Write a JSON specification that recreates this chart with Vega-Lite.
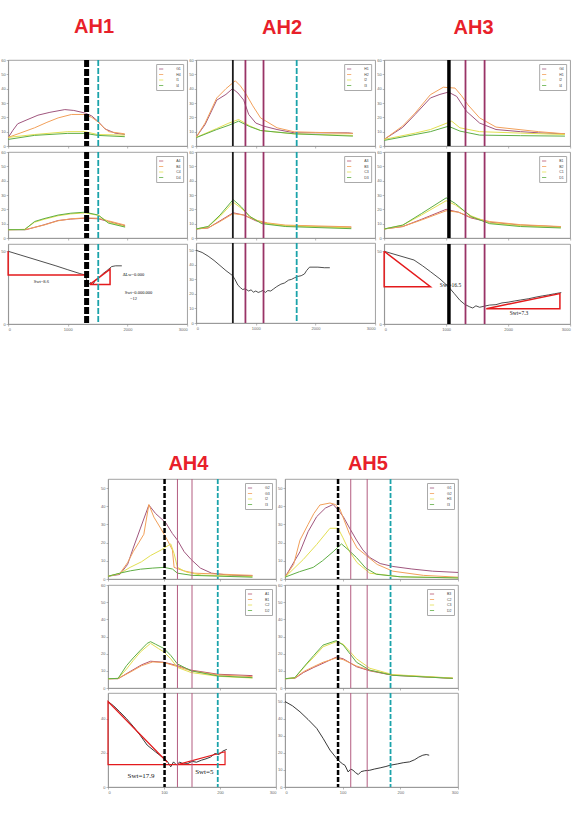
{
"$schema": "https://vega.github.io/schema/vega-lite/v6.json",
"background": "white",
"padding": {"left": 0, "top": 17, "right": 4, "bottom": 4},
"config": {
 "view": {"stroke": "#8a8a8a", "strokeWidth": 0.8},
 "axis": {"grid": false, "title": null, "labelFontSize": 4, "labelColor": "#666", "labelFont": "Liberation Sans", "tickSize": 2, "tickColor": "#888", "tickWidth": 0.6, "domainColor": "#888", "domainWidth": 0.6, "labelPadding": 1, "labelOverlap": false, "format": "d"},
 "legend": {"orient": "top-right", "offset": 4, "title": null, "labelFontSize": 3.5, "labelColor": "#444", "symbolType": "stroke", "symbolSize": 18, "symbolStrokeWidth": 0.8, "strokeColor": "#aaa", "fillColor": "#fff", "padding": 2, "rowPadding": 0.5, "labelOffset": 12, "labelLimit": 30},
 "title": {"color": "#e8202a", "fontSize": 20, "fontWeight": 900, "font": "Liberation Sans", "anchor": "middle"}
},
"datasets": {
"cur": [
{"p":"1t","s":"G1","x":0,"y":5.8},{"p":"1t","s":"G1","x":80,"y":11},{"p":"1t","s":"G1","x":160,"y":15.5},{"p":"1t","s":"G1","x":300,"y":18},{"p":"1t","s":"G1","x":500,"y":21.5},{"p":"1t","s":"G1","x":700,"y":23.5},{"p":"1t","s":"G1","x":950,"y":25.4},{"p":"1t","s":"G1","x":1100,"y":24.8},{"p":"1t","s":"G1","x":1290,"y":23},{"p":"1t","s":"G1","x":1400,"y":21},{"p":"1t","s":"G1","x":1510,"y":17},{"p":"1t","s":"G1","x":1620,"y":12},{"p":"1t","s":"G1","x":1790,"y":9},{"p":"1t","s":"G1","x":1955,"y":8},
{"p":"1t","s":"H4","x":0,"y":6},{"p":"1t","s":"H4","x":200,"y":9},{"p":"1t","s":"H4","x":443,"y":12.7},{"p":"1t","s":"H4","x":650,"y":16.5},{"p":"1t","s":"H4","x":837,"y":19.6},{"p":"1t","s":"H4","x":1062,"y":22},{"p":"1t","s":"H4","x":1286,"y":22},{"p":"1t","s":"H4","x":1400,"y":20},{"p":"1t","s":"H4","x":1500,"y":17},{"p":"1t","s":"H4","x":1600,"y":13},{"p":"1t","s":"H4","x":1685,"y":10},{"p":"1t","s":"H4","x":1955,"y":8.5},
{"p":"1t","s":"I1","x":0,"y":6},{"p":"1t","s":"I1","x":440,"y":8},{"p":"1t","s":"I1","x":1000,"y":10},{"p":"1t","s":"I1","x":1290,"y":10},{"p":"1t","s":"I1","x":1500,"y":8},{"p":"1t","s":"I1","x":1955,"y":7.6},
{"p":"1t","s":"I4","x":0,"y":4.6},{"p":"1t","s":"I4","x":440,"y":7.4},{"p":"1t","s":"I4","x":1000,"y":8.8},{"p":"1t","s":"I4","x":1290,"y":8.8},{"p":"1t","s":"I4","x":1500,"y":7.4},{"p":"1t","s":"I4","x":1955,"y":6.5},
{"p":"1m","s":"A4","x":0,"y":5.8},{"p":"1m","s":"A4","x":300,"y":5.8},{"p":"1m","s":"A4","x":600,"y":9.2},{"p":"1m","s":"A4","x":837,"y":12.2},{"p":"1m","s":"A4","x":1050,"y":13.2},{"p":"1m","s":"A4","x":1286,"y":13.8},{"p":"1m","s":"A4","x":1511,"y":13.4},{"p":"1m","s":"A4","x":1680,"y":11.5},{"p":"1m","s":"A4","x":1960,"y":8.5},
{"p":"1m","s":"B4","x":0,"y":5.8},{"p":"1m","s":"B4","x":300,"y":6},{"p":"1m","s":"B4","x":600,"y":9},{"p":"1m","s":"B4","x":837,"y":12},{"p":"1m","s":"B4","x":1050,"y":13.4},{"p":"1m","s":"B4","x":1286,"y":14},{"p":"1m","s":"B4","x":1511,"y":13.8},{"p":"1m","s":"B4","x":1680,"y":12},{"p":"1m","s":"B4","x":1960,"y":9},
{"p":"1m","s":"C4","x":0,"y":5.8},{"p":"1m","s":"C4","x":275,"y":6},{"p":"1m","s":"C4","x":443,"y":11},{"p":"1m","s":"C4","x":600,"y":13},{"p":"1m","s":"C4","x":837,"y":15.5},{"p":"1m","s":"C4","x":1050,"y":16.8},{"p":"1m","s":"C4","x":1286,"y":17.5},{"p":"1m","s":"C4","x":1511,"y":15.8},{"p":"1m","s":"C4","x":1680,"y":11},{"p":"1m","s":"C4","x":1960,"y":8},
{"p":"1m","s":"D4","x":0,"y":5.8},{"p":"1m","s":"D4","x":275,"y":5.8},{"p":"1m","s":"D4","x":443,"y":11.5},{"p":"1m","s":"D4","x":600,"y":13.5},{"p":"1m","s":"D4","x":837,"y":16},{"p":"1m","s":"D4","x":1050,"y":17.3},{"p":"1m","s":"D4","x":1286,"y":18},{"p":"1m","s":"D4","x":1511,"y":16},{"p":"1m","s":"D4","x":1680,"y":10.4},{"p":"1m","s":"D4","x":1960,"y":7.6},
{"p":"2t","s":"H1","x":0,"y":6.2},{"p":"2t","s":"H1","x":150,"y":15},{"p":"2t","s":"H1","x":345,"y":32},{"p":"2t","s":"H1","x":500,"y":36},{"p":"2t","s":"H1","x":610,"y":40},{"p":"2t","s":"H1","x":700,"y":37},{"p":"2t","s":"H1","x":797,"y":32},{"p":"2t","s":"H1","x":881,"y":22},{"p":"2t","s":"H1","x":1000,"y":16},{"p":"2t","s":"H1","x":1136,"y":13.8},{"p":"2t","s":"H1","x":1356,"y":11.5},{"p":"2t","s":"H1","x":1644,"y":9.2},{"p":"2t","s":"H1","x":2000,"y":9.2},{"p":"2t","s":"H1","x":2542,"y":9.2},{"p":"2t","s":"H1","x":2627,"y":8.8},
{"p":"2t","s":"H2","x":0,"y":6.2},{"p":"2t","s":"H2","x":150,"y":16},{"p":"2t","s":"H2","x":345,"y":33.5},{"p":"2t","s":"H2","x":500,"y":40},{"p":"2t","s":"H2","x":656,"y":45.5},{"p":"2t","s":"H2","x":740,"y":42},{"p":"2t","s":"H2","x":825,"y":37},{"p":"2t","s":"H2","x":950,"y":28},{"p":"2t","s":"H2","x":1080,"y":19.6},{"p":"2t","s":"H2","x":1356,"y":12.7},{"p":"2t","s":"H2","x":1644,"y":9.9},{"p":"2t","s":"H2","x":2000,"y":9.5},{"p":"2t","s":"H2","x":2627,"y":8.8},
{"p":"2t","s":"I2","x":0,"y":6},{"p":"2t","s":"I2","x":345,"y":12.2},{"p":"2t","s":"I2","x":550,"y":16},{"p":"2t","s":"I2","x":712,"y":18.5},{"p":"2t","s":"I2","x":900,"y":14},{"p":"2t","s":"I2","x":1080,"y":10.8},{"p":"2t","s":"I2","x":1644,"y":8.5},{"p":"2t","s":"I2","x":2627,"y":7.4},
{"p":"2t","s":"I3","x":0,"y":5.8},{"p":"2t","s":"I3","x":345,"y":11.5},{"p":"2t","s":"I3","x":550,"y":14.5},{"p":"2t","s":"I3","x":712,"y":17.3},{"p":"2t","s":"I3","x":900,"y":13.5},{"p":"2t","s":"I3","x":1080,"y":10.8},{"p":"2t","s":"I3","x":1644,"y":8.5},{"p":"2t","s":"I3","x":2627,"y":6.9},
{"p":"2m","s":"A3","x":0,"y":6.3},{"p":"2m","s":"A3","x":200,"y":7},{"p":"2m","s":"A3","x":400,"y":12},{"p":"2m","s":"A3","x":620,"y":17.6},{"p":"2m","s":"A3","x":800,"y":16},{"p":"2m","s":"A3","x":1000,"y":12},{"p":"2m","s":"A3","x":1200,"y":10},{"p":"2m","s":"A3","x":1500,"y":8.5},{"p":"2m","s":"A3","x":2600,"y":7.5},
{"p":"2m","s":"B3","x":0,"y":6.3},{"p":"2m","s":"B3","x":200,"y":7},{"p":"2m","s":"B3","x":400,"y":11.5},{"p":"2m","s":"B3","x":620,"y":17},{"p":"2m","s":"B3","x":800,"y":16},{"p":"2m","s":"B3","x":1000,"y":12.5},{"p":"2m","s":"B3","x":1200,"y":10.5},{"p":"2m","s":"B3","x":1500,"y":9},{"p":"2m","s":"B3","x":2600,"y":7.8},
{"p":"2m","s":"C3","x":0,"y":6.3},{"p":"2m","s":"C3","x":200,"y":8},{"p":"2m","s":"C3","x":400,"y":15},{"p":"2m","s":"C3","x":620,"y":25},{"p":"2m","s":"C3","x":750,"y":21},{"p":"2m","s":"C3","x":900,"y":15},{"p":"2m","s":"C3","x":1100,"y":10.5},{"p":"2m","s":"C3","x":1500,"y":8.5},{"p":"2m","s":"C3","x":2600,"y":7},
{"p":"2m","s":"D3","x":0,"y":6.3},{"p":"2m","s":"D3","x":200,"y":8},{"p":"2m","s":"D3","x":400,"y":16},{"p":"2m","s":"D3","x":620,"y":26.8},{"p":"2m","s":"D3","x":750,"y":22},{"p":"2m","s":"D3","x":900,"y":15},{"p":"2m","s":"D3","x":1100,"y":10},{"p":"2m","s":"D3","x":1500,"y":8},{"p":"2m","s":"D3","x":2600,"y":6.5},
{"p":"3t","s":"G4","x":0,"y":4.6},{"p":"3t","s":"G4","x":300,"y":13},{"p":"3t","s":"G4","x":500,"y":22},{"p":"3t","s":"G4","x":746,"y":33.5},{"p":"3t","s":"G4","x":900,"y":36},{"p":"3t","s":"G4","x":1037,"y":37.6},{"p":"3t","s":"G4","x":1170,"y":34.6},{"p":"3t","s":"G4","x":1328,"y":24.2},{"p":"3t","s":"G4","x":1540,"y":16},{"p":"3t","s":"G4","x":1804,"y":11.5},{"p":"3t","s":"G4","x":2200,"y":10},{"p":"3t","s":"G4","x":2492,"y":9.2},{"p":"3t","s":"G4","x":2916,"y":8.5},
{"p":"3t","s":"H1","x":0,"y":4.6},{"p":"3t","s":"H1","x":300,"y":14},{"p":"3t","s":"H1","x":500,"y":23},{"p":"3t","s":"H1","x":746,"y":35.8},{"p":"3t","s":"H1","x":955,"y":41},{"p":"3t","s":"H1","x":1143,"y":40.4},{"p":"3t","s":"H1","x":1250,"y":35},{"p":"3t","s":"H1","x":1350,"y":28.8},{"p":"3t","s":"H1","x":1540,"y":19.6},{"p":"3t","s":"H1","x":1804,"y":13.2},{"p":"3t","s":"H1","x":2492,"y":10},{"p":"3t","s":"H1","x":2916,"y":8.5},
{"p":"3t","s":"I2","x":0,"y":4.6},{"p":"3t","s":"I2","x":500,"y":9},{"p":"3t","s":"I2","x":746,"y":11.5},{"p":"3t","s":"I2","x":1090,"y":17.3},{"p":"3t","s":"I2","x":1222,"y":12.7},{"p":"3t","s":"I2","x":1540,"y":10},{"p":"3t","s":"I2","x":2200,"y":9},{"p":"3t","s":"I2","x":2916,"y":8},
{"p":"3t","s":"I4","x":0,"y":3.9},{"p":"3t","s":"I4","x":500,"y":8},{"p":"3t","s":"I4","x":746,"y":10},{"p":"3t","s":"I4","x":1037,"y":13.8},{"p":"3t","s":"I4","x":1222,"y":10.4},{"p":"3t","s":"I4","x":1540,"y":7.6},{"p":"3t","s":"I4","x":2200,"y":7.2},{"p":"3t","s":"I4","x":2916,"y":6.9},
{"p":"3m","s":"B1","x":0,"y":6.3},{"p":"3m","s":"B1","x":300,"y":8},{"p":"3m","s":"B1","x":600,"y":13},{"p":"3m","s":"B1","x":1000,"y":20},{"p":"3m","s":"B1","x":1200,"y":18},{"p":"3m","s":"B1","x":1400,"y":14},{"p":"3m","s":"B1","x":1700,"y":11},{"p":"3m","s":"B1","x":2200,"y":9},{"p":"3m","s":"B1","x":2850,"y":7.8},
{"p":"3m","s":"B2","x":0,"y":6.3},{"p":"3m","s":"B2","x":300,"y":8},{"p":"3m","s":"B2","x":600,"y":12.5},{"p":"3m","s":"B2","x":1000,"y":19},{"p":"3m","s":"B2","x":1200,"y":18},{"p":"3m","s":"B2","x":1400,"y":14.5},{"p":"3m","s":"B2","x":1700,"y":11.5},{"p":"3m","s":"B2","x":2200,"y":9.3},{"p":"3m","s":"B2","x":2850,"y":8},
{"p":"3m","s":"C1","x":0,"y":6.3},{"p":"3m","s":"C1","x":300,"y":9},{"p":"3m","s":"C1","x":600,"y":16},{"p":"3m","s":"C1","x":1000,"y":26},{"p":"3m","s":"C1","x":1150,"y":23},{"p":"3m","s":"C1","x":1400,"y":15.5},{"p":"3m","s":"C1","x":1700,"y":10.5},{"p":"3m","s":"C1","x":2200,"y":8.5},{"p":"3m","s":"C1","x":2850,"y":7.3},
{"p":"3m","s":"D1","x":0,"y":6.3},{"p":"3m","s":"D1","x":300,"y":9},{"p":"3m","s":"D1","x":600,"y":17},{"p":"3m","s":"D1","x":1000,"y":28},{"p":"3m","s":"D1","x":1150,"y":24},{"p":"3m","s":"D1","x":1400,"y":15},{"p":"3m","s":"D1","x":1700,"y":10},{"p":"3m","s":"D1","x":2200,"y":8},{"p":"3m","s":"D1","x":2850,"y":7},
{"p":"4t","s":"G2","x":0,"y":1.5},{"p":"4t","s":"G2","x":21,"y":2.5},{"p":"4t","s":"G2","x":35,"y":8},{"p":"4t","s":"G2","x":45,"y":17},{"p":"4t","s":"G2","x":58,"y":28},{"p":"4t","s":"G2","x":73,"y":40.7},{"p":"4t","s":"G2","x":85,"y":36},{"p":"4t","s":"G2","x":103,"y":31},{"p":"4t","s":"G2","x":115,"y":25},{"p":"4t","s":"G2","x":124,"y":21.4},{"p":"4t","s":"G2","x":136,"y":15},{"p":"4t","s":"G2","x":148.5,"y":10.7},{"p":"4t","s":"G2","x":165,"y":6},{"p":"4t","s":"G2","x":185,"y":3.2},{"p":"4t","s":"G2","x":220,"y":2},{"p":"4t","s":"G2","x":258,"y":1.8},
{"p":"4t","s":"G3","x":0,"y":1.5},{"p":"4t","s":"G3","x":21,"y":3},{"p":"4t","s":"G3","x":35,"y":9},{"p":"4t","s":"G3","x":45,"y":15},{"p":"4t","s":"G3","x":55,"y":20},{"p":"4t","s":"G3","x":64,"y":24.6},{"p":"4t","s":"G3","x":73,"y":41},{"p":"4t","s":"G3","x":82,"y":34},{"p":"4t","s":"G3","x":94,"y":27.9},{"p":"4t","s":"G3","x":105,"y":22},{"p":"4t","s":"G3","x":115,"y":16},{"p":"4t","s":"G3","x":118,"y":6.4},{"p":"4t","s":"G3","x":135,"y":4.5},{"p":"4t","s":"G3","x":155,"y":3.2},{"p":"4t","s":"G3","x":258,"y":2},
{"p":"4t","s":"I2","x":0,"y":1.5},{"p":"4t","s":"I2","x":21,"y":3},{"p":"4t","s":"I2","x":39.5,"y":6.4},{"p":"4t","s":"I2","x":60,"y":9.5},{"p":"4t","s":"I2","x":76,"y":12.9},{"p":"4t","s":"I2","x":95,"y":16},{"p":"4t","s":"I2","x":112,"y":19.3},{"p":"4t","s":"I2","x":118,"y":14},{"p":"4t","s":"I2","x":124,"y":6.4},{"p":"4t","s":"I2","x":140,"y":3.8},{"p":"4t","s":"I2","x":167,"y":2.1},{"p":"4t","s":"I2","x":258,"y":1.3},
{"p":"4t","s":"I3","x":0,"y":1.5},{"p":"4t","s":"I3","x":21,"y":3.2},{"p":"4t","s":"I3","x":40,"y":4.5},{"p":"4t","s":"I3","x":58,"y":5.4},{"p":"4t","s":"I3","x":80,"y":6},{"p":"4t","s":"I3","x":100,"y":6.4},{"p":"4t","s":"I3","x":115,"y":5.5},{"p":"4t","s":"I3","x":124,"y":3.2},{"p":"4t","s":"I3","x":150,"y":2},{"p":"4t","s":"I3","x":258,"y":1},
{"p":"4m","s":"A1","x":0,"y":5.4},{"p":"4m","s":"A1","x":18,"y":5.4},{"p":"4m","s":"A1","x":39.5,"y":9.6},{"p":"4m","s":"A1","x":60,"y":13.5},{"p":"4m","s":"A1","x":76,"y":15.6},{"p":"4m","s":"A1","x":100,"y":15},{"p":"4m","s":"A1","x":124,"y":13},{"p":"4m","s":"A1","x":148.5,"y":10.4},{"p":"4m","s":"A1","x":197,"y":8},{"p":"4m","s":"A1","x":258,"y":7.2},
{"p":"4m","s":"B1","x":0,"y":5.4},{"p":"4m","s":"B1","x":18,"y":5.5},{"p":"4m","s":"B1","x":39.5,"y":9.2},{"p":"4m","s":"B1","x":60,"y":13},{"p":"4m","s":"B1","x":80,"y":15.2},{"p":"4m","s":"B1","x":100,"y":14.8},{"p":"4m","s":"B1","x":124,"y":12.5},{"p":"4m","s":"B1","x":148.5,"y":10},{"p":"4m","s":"B1","x":197,"y":7.6},{"p":"4m","s":"B1","x":258,"y":6.6},
{"p":"4m","s":"C2","x":0,"y":5.4},{"p":"4m","s":"C2","x":18,"y":5.6},{"p":"4m","s":"C2","x":33,"y":11},{"p":"4m","s":"C2","x":45,"y":16},{"p":"4m","s":"C2","x":58,"y":21},{"p":"4m","s":"C2","x":76,"y":26},{"p":"4m","s":"C2","x":90,"y":23},{"p":"4m","s":"C2","x":100,"y":21},{"p":"4m","s":"C2","x":112,"y":17},{"p":"4m","s":"C2","x":124,"y":12},{"p":"4m","s":"C2","x":148.5,"y":9},{"p":"4m","s":"C2","x":197,"y":6.8},{"p":"4m","s":"C2","x":258,"y":5.8},
{"p":"4m","s":"D2","x":0,"y":5.4},{"p":"4m","s":"D2","x":18,"y":5.6},{"p":"4m","s":"D2","x":33,"y":13},{"p":"4m","s":"D2","x":45,"y":17.5},{"p":"4m","s":"D2","x":58,"y":22},{"p":"4m","s":"D2","x":70,"y":26},{"p":"4m","s":"D2","x":76,"y":27},{"p":"4m","s":"D2","x":85,"y":25.5},{"p":"4m","s":"D2","x":100,"y":23},{"p":"4m","s":"D2","x":112,"y":19},{"p":"4m","s":"D2","x":124,"y":14},{"p":"4m","s":"D2","x":148.5,"y":10},{"p":"4m","s":"D2","x":197,"y":7},{"p":"4m","s":"D2","x":258,"y":6},
{"p":"5t","s":"G1","x":0,"y":1},{"p":"5t","s":"G1","x":26,"y":15},{"p":"5t","s":"G1","x":40,"y":26},{"p":"5t","s":"G1","x":55,"y":34.3},{"p":"5t","s":"G1","x":70,"y":39},{"p":"5t","s":"G1","x":83.5,"y":41},{"p":"5t","s":"G1","x":92,"y":38},{"p":"5t","s":"G1","x":101,"y":34.3},{"p":"5t","s":"G1","x":112,"y":28},{"p":"5t","s":"G1","x":124,"y":21.4},{"p":"5t","s":"G1","x":135,"y":16},{"p":"5t","s":"G1","x":147,"y":11.8},{"p":"5t","s":"G1","x":165,"y":8.5},{"p":"5t","s":"G1","x":187,"y":6.9},{"p":"5t","s":"G1","x":220,"y":5.5},{"p":"5t","s":"G1","x":256,"y":4.3},{"p":"5t","s":"G1","x":300,"y":3.6},
{"p":"5t","s":"G2","x":0,"y":1},{"p":"5t","s":"G2","x":15,"y":8},{"p":"5t","s":"G2","x":26,"y":21.4},{"p":"5t","s":"G2","x":40,"y":30},{"p":"5t","s":"G2","x":50,"y":36},{"p":"5t","s":"G2","x":60.5,"y":40.7},{"p":"5t","s":"G2","x":78,"y":41.8},{"p":"5t","s":"G2","x":87,"y":41},{"p":"5t","s":"G2","x":95,"y":38.6},{"p":"5t","s":"G2","x":103,"y":32},{"p":"5t","s":"G2","x":112,"y":24.6},{"p":"5t","s":"G2","x":125,"y":17},{"p":"5t","s":"G2","x":141,"y":12.9},{"p":"5t","s":"G2","x":160,"y":8},{"p":"5t","s":"G2","x":187,"y":4.3},{"p":"5t","s":"G2","x":240,"y":2},{"p":"5t","s":"G2","x":300,"y":1},
{"p":"5t","s":"H3","x":0,"y":1},{"p":"5t","s":"H3","x":31.6,"y":10.7},{"p":"5t","s":"H3","x":55,"y":19},{"p":"5t","s":"H3","x":78,"y":27.9},{"p":"5t","s":"H3","x":92,"y":27.9},{"p":"5t","s":"H3","x":100,"y":23},{"p":"5t","s":"H3","x":112,"y":15},{"p":"5t","s":"H3","x":125,"y":9},{"p":"5t","s":"H3","x":147,"y":3.2},{"p":"5t","s":"H3","x":200,"y":1.2},{"p":"5t","s":"H3","x":300,"y":0.6},
{"p":"5t","s":"I3","x":0,"y":1},{"p":"5t","s":"I3","x":25,"y":4},{"p":"5t","s":"I3","x":49,"y":6.4},{"p":"5t","s":"I3","x":65,"y":10},{"p":"5t","s":"I3","x":83.5,"y":15},{"p":"5t","s":"I3","x":98,"y":19.3},{"p":"5t","s":"I3","x":110,"y":16},{"p":"5t","s":"I3","x":124,"y":11.8},{"p":"5t","s":"I3","x":140,"y":6},{"p":"5t","s":"I3","x":158.5,"y":2.6},{"p":"5t","s":"I3","x":200,"y":1.2},{"p":"5t","s":"I3","x":300,"y":0.6},
{"p":"5m","s":"B3","x":0,"y":5.4},{"p":"5m","s":"B3","x":17,"y":5.6},{"p":"5m","s":"B3","x":32,"y":9},{"p":"5m","s":"B3","x":50,"y":12},{"p":"5m","s":"B3","x":66,"y":14.4},{"p":"5m","s":"B3","x":89,"y":18},{"p":"5m","s":"B3","x":101,"y":17},{"p":"5m","s":"B3","x":124,"y":12.4},{"p":"5m","s":"B3","x":147,"y":10},{"p":"5m","s":"B3","x":187,"y":7.4},{"p":"5m","s":"B3","x":291,"y":5.6},
{"p":"5m","s":"C2","x":0,"y":5.4},{"p":"5m","s":"C2","x":17,"y":5.8},{"p":"5m","s":"C2","x":32,"y":9.5},{"p":"5m","s":"C2","x":50,"y":12.5},{"p":"5m","s":"C2","x":66,"y":15},{"p":"5m","s":"C2","x":89,"y":17.5},{"p":"5m","s":"C2","x":101,"y":16.5},{"p":"5m","s":"C2","x":124,"y":12.8},{"p":"5m","s":"C2","x":147,"y":10.3},{"p":"5m","s":"C2","x":187,"y":7.6},{"p":"5m","s":"C2","x":291,"y":5.7},
{"p":"5m","s":"C3","x":0,"y":5.4},{"p":"5m","s":"C3","x":17,"y":6},{"p":"5m","s":"C3","x":37,"y":13.5},{"p":"5m","s":"C3","x":50,"y":18},{"p":"5m","s":"C3","x":66,"y":24},{"p":"5m","s":"C3","x":89,"y":27},{"p":"5m","s":"C3","x":101,"y":25.5},{"p":"5m","s":"C3","x":124,"y":17},{"p":"5m","s":"C3","x":147,"y":11.5},{"p":"5m","s":"C3","x":187,"y":7.8},{"p":"5m","s":"C3","x":291,"y":5.8},
{"p":"5m","s":"D2","x":0,"y":5.4},{"p":"5m","s":"D2","x":17,"y":6},{"p":"5m","s":"D2","x":37,"y":14},{"p":"5m","s":"D2","x":50,"y":19},{"p":"5m","s":"D2","x":66,"y":25},{"p":"5m","s":"D2","x":89,"y":27.6},{"p":"5m","s":"D2","x":101,"y":25},{"p":"5m","s":"D2","x":124,"y":15},{"p":"5m","s":"D2","x":147,"y":10.4},{"p":"5m","s":"D2","x":187,"y":7.4},{"p":"5m","s":"D2","x":291,"y":5.6}
],
"bl": [
{"a":"AH1","x":0,"y":50},{"a":"AH1","x":200,"y":47.5},{"a":"AH1","x":400,"y":45},{"a":"AH1","x":600,"y":42.5},{"a":"AH1","x":800,"y":40},{"a":"AH1","x":1000,"y":37.3},{"a":"AH1","x":1200,"y":34.7},{"a":"AH1","x":1290,"y":33.7},{"a":"AH1","x":1320,"y":30},{"a":"AH1","x":1350,"y":27},{"a":"AH1","x":1380,"y":28.5},{"a":"AH1","x":1420,"y":27},{"a":"AH1","x":1460,"y":30},{"a":"AH1","x":1500,"y":31},{"a":"AH1","x":1550,"y":33},{"a":"AH1","x":1600,"y":35},{"a":"AH1","x":1650,"y":36.5},{"a":"AH1","x":1736,"y":39.5},{"a":"AH1","x":1800,"y":40},{"a":"AH1","x":1905,"y":40},
{"a":"AH2","x":0,"y":50},{"a":"AH2","x":100,"y":48.5},{"a":"AH2","x":200,"y":46},{"a":"AH2","x":300,"y":43},{"a":"AH2","x":400,"y":39.5},{"a":"AH2","x":500,"y":36},{"a":"AH2","x":610,"y":32.6},{"a":"AH2","x":650,"y":30},{"a":"AH2","x":700,"y":26},{"a":"AH2","x":740,"y":24.4},{"a":"AH2","x":780,"y":23},{"a":"AH2","x":820,"y":23.5},{"a":"AH2","x":881,"y":22},{"a":"AH2","x":920,"y":22.8},{"a":"AH2","x":960,"y":21.2},{"a":"AH2","x":1000,"y":22},{"a":"AH2","x":1040,"y":21},{"a":"AH2","x":1080,"y":21.6},{"a":"AH2","x":1120,"y":22.4},{"a":"AH2","x":1160,"y":21},{"a":"AH2","x":1200,"y":22.3},{"a":"AH2","x":1250,"y":22},{"a":"AH2","x":1300,"y":23.5},{"a":"AH2","x":1350,"y":25},{"a":"AH2","x":1420,"y":26.7},{"a":"AH2","x":1480,"y":27.5},{"a":"AH2","x":1550,"y":29.5},{"a":"AH2","x":1600,"y":30},{"a":"AH2","x":1645,"y":31},{"a":"AH2","x":1700,"y":32},{"a":"AH2","x":1760,"y":32.5},{"a":"AH2","x":1815,"y":33.7},{"a":"AH2","x":1850,"y":36},{"a":"AH2","x":1900,"y":38.4},{"a":"AH2","x":2040,"y":38.4},{"a":"AH2","x":2150,"y":38},{"a":"AH2","x":2240,"y":38},
{"a":"AH3","x":0,"y":50},{"a":"AH3","x":240,"y":47},{"a":"AH3","x":481,"y":44},{"a":"AH3","x":620,"y":40},{"a":"AH3","x":746,"y":36},{"a":"AH3","x":900,"y":31},{"a":"AH3","x":1037,"y":25.6},{"a":"AH3","x":1130,"y":21},{"a":"AH3","x":1222,"y":16.3},{"a":"AH3","x":1300,"y":13.5},{"a":"AH3","x":1380,"y":11.8},{"a":"AH3","x":1429,"y":11},{"a":"AH3","x":1480,"y":12.5},{"a":"AH3","x":1540,"y":11.5},{"a":"AH3","x":1620,"y":12.3},{"a":"AH3","x":1700,"y":13},{"a":"AH3","x":1804,"y":13.3},{"a":"AH3","x":1900,"y":14.5},{"a":"AH3","x":2000,"y":15},{"a":"AH3","x":2100,"y":15.8},{"a":"AH3","x":2200,"y":16.5},{"a":"AH3","x":2333,"y":17.4},{"a":"AH3","x":2450,"y":18.5},{"a":"AH3","x":2550,"y":19.3},{"a":"AH3","x":2650,"y":20},{"a":"AH3","x":2750,"y":20.8},{"a":"AH3","x":2857,"y":21.6},
{"a":"AH4","x":0,"y":50},{"a":"AH4","x":10,"y":47.5},{"a":"AH4","x":21,"y":44},{"a":"AH4","x":33,"y":40},{"a":"AH4","x":45.5,"y":35.3},{"a":"AH4","x":58,"y":30},{"a":"AH4","x":70,"y":24.5},{"a":"AH4","x":85,"y":20.5},{"a":"AH4","x":100,"y":16.7},{"a":"AH4","x":106,"y":15},{"a":"AH4","x":112,"y":11.8},{"a":"AH4","x":117,"y":14.7},{"a":"AH4","x":122,"y":13},{"a":"AH4","x":128,"y":14.5},{"a":"AH4","x":135,"y":13.5},{"a":"AH4","x":142.5,"y":13.7},{"a":"AH4","x":150,"y":15},{"a":"AH4","x":158,"y":14.5},{"a":"AH4","x":167,"y":15.7},{"a":"AH4","x":175,"y":16.5},{"a":"AH4","x":183,"y":17.5},{"a":"AH4","x":191,"y":19.6},{"a":"AH4","x":198,"y":19},{"a":"AH4","x":205,"y":21},{"a":"AH4","x":212,"y":22},
{"a":"AH5","x":0,"y":50},{"a":"AH5","x":13,"y":47.5},{"a":"AH5","x":26,"y":44},{"a":"AH5","x":40,"y":39.5},{"a":"AH5","x":55,"y":34.3},{"a":"AH5","x":66,"y":28.5},{"a":"AH5","x":78,"y":21.6},{"a":"AH5","x":92,"y":15.7},{"a":"AH5","x":100,"y":13.5},{"a":"AH5","x":104,"y":12.7},{"a":"AH5","x":109.5,"y":8.8},{"a":"AH5","x":114,"y":10.5},{"a":"AH5","x":118,"y":9.8},{"a":"AH5","x":122,"y":8.5},{"a":"AH5","x":127,"y":7.3},{"a":"AH5","x":132,"y":9},{"a":"AH5","x":138,"y":9.5},{"a":"AH5","x":147,"y":9.8},{"a":"AH5","x":155,"y":10.5},{"a":"AH5","x":165,"y":11.2},{"a":"AH5","x":175,"y":12},{"a":"AH5","x":182,"y":12.7},{"a":"AH5","x":195,"y":13.5},{"a":"AH5","x":205,"y":14.2},{"a":"AH5","x":216,"y":14.7},{"a":"AH5","x":225,"y":16},{"a":"AH5","x":232,"y":17.5},{"a":"AH5","x":239,"y":18.6},{"a":"AH5","x":245,"y":19},{"a":"AH5","x":250,"y":18.6}
],
"red": [
{"a":"AH1","g":"a","x":0,"y":50},{"a":"AH1","g":"a","x":0,"y":33.7},{"a":"AH1","g":"a","x":1290,"y":33.7},
{"a":"AH1","g":"b","x":1371,"y":27.2},{"a":"AH1","g":"b","x":1708,"y":27.2},{"a":"AH1","g":"b","x":1708,"y":37.7},{"a":"AH1","g":"b","x":1371,"y":27.2},
{"a":"AH3","g":"a","x":0,"y":50},{"a":"AH3","g":"a","x":0,"y":25.6},{"a":"AH3","g":"a","x":746,"y":25.6},{"a":"AH3","g":"a","x":0,"y":50},
{"a":"AH3","g":"b","x":1646,"y":10.5},{"a":"AH3","g":"b","x":2835,"y":10.5},{"a":"AH3","g":"b","x":2835,"y":20.9},{"a":"AH3","g":"b","x":1646,"y":10.5},
{"a":"AH4","g":"a","x":106,"y":14.5},{"a":"AH4","g":"a","x":0,"y":50},{"a":"AH4","g":"a","x":0,"y":13.1},{"a":"AH4","g":"a","x":209,"y":13.1},{"a":"AH4","g":"a","x":209,"y":20.6},{"a":"AH4","g":"a","x":124,"y":13.1}
],
"txt": [
{"a":"AH1","x":556,"y":28.6,"t":"Swt=8.6"},
{"a":"AH1","x":2100,"y":33.7,"t":"ΔLw=0.000"},
{"a":"AH1","x":2186,"y":21.6,"t":"Swt=0.000.000"},
{"a":"AH1","x":2101,"y":17,"t":"=12"},
{"a":"AH3","x":1070,"y":26.7,"t":"Swt=16.5"},
{"a":"AH3","x":2175,"y":7.7,"t":"Swt=7.3"},
{"a":"AH4","x":59,"y":6.3,"t":"Swt=17.9"},
{"a":"AH4","x":172,"y":8.8,"t":"Swt=5"}
],
"vl": [
{"a":"AH1","k":"b","x":1315},{"a":"AH1","k":"c","x":1510},
{"a":"AH2","k":"b","x":615},{"a":"AH2","k":"p","x":826},{"a":"AH2","k":"p","x":1129},{"a":"AH2","k":"c","x":1685},
{"a":"AH3","k":"b","x":1045},{"a":"AH3","k":"p","x":1312},{"a":"AH3","k":"p","x":1620},
{"a":"AH4","k":"b","x":101},{"a":"AH4","k":"p","x":124},{"a":"AH4","k":"p","x":150},{"a":"AH4","k":"c","x":196},
{"a":"AH5","k":"b","x":92},{"a":"AH5","k":"p","x":114},{"a":"AH5","k":"p","x":142.5},{"a":"AH5","k":"c","x":183}
]
},
"center": true,
"spacing": 122,
"resolve": {"scale": {"color": "independent"}, "legend": {"color": "independent"}},
"vconcat": [
{"hconcat": [
 {"title": {"text": "AH1", "offset": 20}, "spacing": 0, "resolve": {"scale": {"color": "independent"}, "legend": {"color": "independent"}},
  "vconcat": [
   {"width": 179, "height": 86, "layer": [
     {"data": {"name": "cur"}, "transform": [{"filter": "datum.p==='1t'"}], "mark": {"type": "line", "strokeWidth": 1, "clip": true},
      "encoding": {"x": {"field": "x", "type": "quantitative", "scale": {"domain": [0, 3000], "nice": false}, "axis": {"labels": false, "values": [0,500,1000,1500,2000,2500,3000]}},
       "y": {"field": "y", "type": "quantitative", "scale": {"domain": [0, 60], "nice": false}, "axis": {"values": [0,10,20,30,40,50,60]}},
       "color": {"field": "s", "type": "nominal", "scale": {"domain": ["G1","H4","I1","I4"], "range": ["#a0567e","#f2a05a","#e3df52","#5fae45"]}}}},
     {"data": {"name": "vl"}, "transform": [{"filter": "datum.a==='AH1' && datum.k==='b'"}], "mark": {"type": "rule", "color": "#000", "strokeWidth": 5, "strokeDash": [7, 2]}, "encoding": {"x": {"field": "x", "type": "quantitative"}}},
     {"data": {"name": "vl"}, "transform": [{"filter": "datum.a==='AH1' && datum.k==='c'"}], "mark": {"type": "rule", "color": "#1ba3aa", "strokeWidth": 1.8, "strokeDash": [6, 2]}, "encoding": {"x": {"field": "x", "type": "quantitative"}}}
   ]},
   {"width": 179, "height": 86, "layer": [
     {"data": {"name": "cur"}, "transform": [{"filter": "datum.p==='1m'"}], "mark": {"type": "line", "strokeWidth": 1, "clip": true},
      "encoding": {"x": {"field": "x", "type": "quantitative", "scale": {"domain": [0, 3000], "nice": false}, "axis": {"labels": false, "values": [0,500,1000,1500,2000,2500,3000]}},
       "y": {"field": "y", "type": "quantitative", "scale": {"domain": [0, 60], "nice": false}, "axis": {"values": [0,10,20,30,40,50,60]}},
       "color": {"field": "s", "type": "nominal", "scale": {"domain": ["A4","B4","C4","D4"], "range": ["#b8546c","#f2a05a","#e3df52","#5fae45"]}}}},
     {"data": {"name": "vl"}, "transform": [{"filter": "datum.a==='AH1' && datum.k==='b'"}], "mark": {"type": "rule", "color": "#000", "strokeWidth": 5, "strokeDash": [7, 2]}, "encoding": {"x": {"field": "x", "type": "quantitative"}}},
     {"data": {"name": "vl"}, "transform": [{"filter": "datum.a==='AH1' && datum.k==='c'"}], "mark": {"type": "rule", "color": "#1ba3aa", "strokeWidth": 1.8, "strokeDash": [6, 2]}, "encoding": {"x": {"field": "x", "type": "quantitative"}}}
   ]},
   {"width": 179, "height": 80, "layer": [
     {"data": {"name": "bl"}, "transform": [{"filter": "datum.a==='AH1'"}], "mark": {"type": "line", "strokeWidth": 0.8, "color": "#222", "clip": true},
      "encoding": {"x": {"field": "x", "type": "quantitative", "scale": {"domain": [0, 3000], "nice": false}, "axis": {"values": [0,500,1000,1500,2000,2500,3000]}},
       "y": {"field": "y", "type": "quantitative", "scale": {"domain": [0, 55], "nice": false}, "axis": {"values": [0,10,20,30,40,50]}}}},
     {"data": {"name": "red"}, "transform": [{"filter": "datum.a==='AH1'"}], "mark": {"type": "line", "strokeWidth": 1.5, "color": "#e41a1c"},
      "encoding": {"x": {"field": "x", "type": "quantitative"}, "y": {"field": "y", "type": "quantitative"}, "detail": {"field": "g"}, "order": {"value": null}}},
     {"data": {"name": "vl"}, "transform": [{"filter": "datum.a==='AH1' && datum.k==='b'"}], "mark": {"type": "rule", "color": "#000", "strokeWidth": 5, "strokeDash": [7, 2]}, "encoding": {"x": {"field": "x", "type": "quantitative"}}},
     {"data": {"name": "vl"}, "transform": [{"filter": "datum.a==='AH1' && datum.k==='c'"}], "mark": {"type": "rule", "color": "#1ba3aa", "strokeWidth": 1.8, "strokeDash": [6, 2]}, "encoding": {"x": {"field": "x", "type": "quantitative"}}},
     {"data": {"name": "txt"}, "transform": [{"filter": "datum.a==='AH1'"}], "mark": {"type": "text", "font": "Liberation Serif", "fontSize": 4.5, "color": "#111"},
      "encoding": {"x": {"field": "x", "type": "quantitative"}, "y": {"field": "y", "type": "quantitative"}, "text": {"field": "t"}}}
   ]}
  ]},
 {"title": {"text": "AH2", "offset": 20}, "spacing": 0, "resolve": {"scale": {"color": "independent"}, "legend": {"color": "independent"}},
  "vconcat": [
   {"width": 179, "height": 86, "layer": [
     {"data": {"name": "cur"}, "transform": [{"filter": "datum.p==='2t'"}], "mark": {"type": "line", "strokeWidth": 1, "clip": true},
      "encoding": {"x": {"field": "x", "type": "quantitative", "scale": {"domain": [0, 3000], "nice": false}, "axis": {"labels": false, "values": [0,500,1000,1500,2000,2500,3000]}},
       "y": {"field": "y", "type": "quantitative", "scale": {"domain": [0, 60], "nice": false}, "axis": {"values": [0,10,20,30,40,50,60]}},
       "color": {"field": "s", "type": "nominal", "scale": {"domain": ["H1","H2","I2","I3"], "range": ["#a0567e","#f2a05a","#e3df52","#5fae45"]}}}},
     {"data": {"name": "vl"}, "transform": [{"filter": "datum.a==='AH2' && datum.k==='b'"}], "mark": {"type": "rule", "color": "#1a1a1a", "strokeWidth": 1.8}, "encoding": {"x": {"field": "x", "type": "quantitative"}}},
     {"data": {"name": "vl"}, "transform": [{"filter": "datum.a==='AH2' && datum.k==='p'"}], "mark": {"type": "rule", "color": "#993366", "strokeWidth": 1.8}, "encoding": {"x": {"field": "x", "type": "quantitative"}}},
     {"data": {"name": "vl"}, "transform": [{"filter": "datum.a==='AH2' && datum.k==='c'"}], "mark": {"type": "rule", "color": "#1ba3aa", "strokeWidth": 1.8, "strokeDash": [6, 2]}, "encoding": {"x": {"field": "x", "type": "quantitative"}}}
   ]},
   {"width": 179, "height": 86, "layer": [
     {"data": {"name": "cur"}, "transform": [{"filter": "datum.p==='2m'"}], "mark": {"type": "line", "strokeWidth": 1, "clip": true},
      "encoding": {"x": {"field": "x", "type": "quantitative", "scale": {"domain": [0, 3000], "nice": false}, "axis": {"labels": false, "values": [0,500,1000,1500,2000,2500,3000]}},
       "y": {"field": "y", "type": "quantitative", "scale": {"domain": [0, 60], "nice": false}, "axis": {"values": [0,10,20,30,40,50,60]}},
       "color": {"field": "s", "type": "nominal", "scale": {"domain": ["A3","B3","C3","D3"], "range": ["#b8546c","#f2a05a","#e3df52","#5fae45"]}}}},
     {"data": {"name": "vl"}, "transform": [{"filter": "datum.a==='AH2' && datum.k==='b'"}], "mark": {"type": "rule", "color": "#1a1a1a", "strokeWidth": 1.8}, "encoding": {"x": {"field": "x", "type": "quantitative"}}},
     {"data": {"name": "vl"}, "transform": [{"filter": "datum.a==='AH2' && datum.k==='p'"}], "mark": {"type": "rule", "color": "#993366", "strokeWidth": 1.8}, "encoding": {"x": {"field": "x", "type": "quantitative"}}},
     {"data": {"name": "vl"}, "transform": [{"filter": "datum.a==='AH2' && datum.k==='c'"}], "mark": {"type": "rule", "color": "#1ba3aa", "strokeWidth": 1.8, "strokeDash": [6, 2]}, "encoding": {"x": {"field": "x", "type": "quantitative"}}}
   ]},
   {"width": 179, "height": 80, "layer": [
     {"data": {"name": "bl"}, "transform": [{"filter": "datum.a==='AH2'"}], "mark": {"type": "line", "strokeWidth": 0.8, "color": "#222", "clip": true},
      "encoding": {"x": {"field": "x", "type": "quantitative", "scale": {"domain": [0, 3000], "nice": false}, "axis": {"values": [0,500,1000,1500,2000,2500,3000]}},
       "y": {"field": "y", "type": "quantitative", "scale": {"domain": [0, 55], "nice": false}, "axis": {"values": [0,10,20,30,40,50]}}}},
     {"data": {"name": "vl"}, "transform": [{"filter": "datum.a==='AH2' && datum.k==='b'"}], "mark": {"type": "rule", "color": "#1a1a1a", "strokeWidth": 1.8}, "encoding": {"x": {"field": "x", "type": "quantitative"}}},
     {"data": {"name": "vl"}, "transform": [{"filter": "datum.a==='AH2' && datum.k==='p'"}], "mark": {"type": "rule", "color": "#993366", "strokeWidth": 1.8}, "encoding": {"x": {"field": "x", "type": "quantitative"}}},
     {"data": {"name": "vl"}, "transform": [{"filter": "datum.a==='AH2' && datum.k==='c'"}], "mark": {"type": "rule", "color": "#1ba3aa", "strokeWidth": 1.8, "strokeDash": [6, 2]}, "encoding": {"x": {"field": "x", "type": "quantitative"}}}
   ]}
  ]},
 {"title": {"text": "AH3", "offset": 20}, "spacing": 0, "resolve": {"scale": {"color": "independent"}, "legend": {"color": "independent"}},
  "vconcat": [
   {"width": 186, "height": 86, "layer": [
     {"data": {"name": "cur"}, "transform": [{"filter": "datum.p==='3t'"}], "mark": {"type": "line", "strokeWidth": 1, "clip": true},
      "encoding": {"x": {"field": "x", "type": "quantitative", "scale": {"domain": [0, 3000], "nice": false}, "axis": {"labels": false, "values": [0,500,1000,1500,2000,2500,3000]}},
       "y": {"field": "y", "type": "quantitative", "scale": {"domain": [0, 60], "nice": false}, "axis": {"values": [0,10,20,30,40,50,60]}},
       "color": {"field": "s", "type": "nominal", "scale": {"domain": ["G4","H1","I2","I4"], "range": ["#a0567e","#f2a05a","#e3df52","#5fae45"]}}}},
     {"data": {"name": "vl"}, "transform": [{"filter": "datum.a==='AH3' && datum.k==='b'"}], "mark": {"type": "rule", "color": "#000", "strokeWidth": 3.5}, "encoding": {"x": {"field": "x", "type": "quantitative"}}},
     {"data": {"name": "vl"}, "transform": [{"filter": "datum.a==='AH3' && datum.k==='p'"}], "mark": {"type": "rule", "color": "#993366", "strokeWidth": 1.8}, "encoding": {"x": {"field": "x", "type": "quantitative"}}}
   ]},
   {"width": 186, "height": 86, "layer": [
     {"data": {"name": "cur"}, "transform": [{"filter": "datum.p==='3m'"}], "mark": {"type": "line", "strokeWidth": 1, "clip": true},
      "encoding": {"x": {"field": "x", "type": "quantitative", "scale": {"domain": [0, 3000], "nice": false}, "axis": {"labels": false, "values": [0,500,1000,1500,2000,2500,3000]}},
       "y": {"field": "y", "type": "quantitative", "scale": {"domain": [0, 60], "nice": false}, "axis": {"values": [0,10,20,30,40,50,60]}},
       "color": {"field": "s", "type": "nominal", "scale": {"domain": ["B1","B2","C1","D1"], "range": ["#b8546c","#f2a05a","#e3df52","#5fae45"]}}}},
     {"data": {"name": "vl"}, "transform": [{"filter": "datum.a==='AH3' && datum.k==='b'"}], "mark": {"type": "rule", "color": "#000", "strokeWidth": 3.5}, "encoding": {"x": {"field": "x", "type": "quantitative"}}},
     {"data": {"name": "vl"}, "transform": [{"filter": "datum.a==='AH3' && datum.k==='p'"}], "mark": {"type": "rule", "color": "#993366", "strokeWidth": 1.8}, "encoding": {"x": {"field": "x", "type": "quantitative"}}}
   ]},
   {"width": 186, "height": 80, "layer": [
     {"data": {"name": "bl"}, "transform": [{"filter": "datum.a==='AH3'"}], "mark": {"type": "line", "strokeWidth": 0.8, "color": "#222", "clip": true},
      "encoding": {"x": {"field": "x", "type": "quantitative", "scale": {"domain": [0, 3000], "nice": false}, "axis": {"values": [0,500,1000,1500,2000,2500,3000]}},
       "y": {"field": "y", "type": "quantitative", "scale": {"domain": [0, 55], "nice": false}, "axis": {"values": [0,10,20,30,40,50]}}}},
     {"data": {"name": "red"}, "transform": [{"filter": "datum.a==='AH3'"}], "mark": {"type": "line", "strokeWidth": 1.5, "color": "#e41a1c"},
      "encoding": {"x": {"field": "x", "type": "quantitative"}, "y": {"field": "y", "type": "quantitative"}, "detail": {"field": "g"}, "order": {"value": null}}},
     {"data": {"name": "vl"}, "transform": [{"filter": "datum.a==='AH3' && datum.k==='b'"}], "mark": {"type": "rule", "color": "#000", "strokeWidth": 3.5}, "encoding": {"x": {"field": "x", "type": "quantitative"}}},
     {"data": {"name": "vl"}, "transform": [{"filter": "datum.a==='AH3' && datum.k==='p'"}], "mark": {"type": "rule", "color": "#993366", "strokeWidth": 1.8}, "encoding": {"x": {"field": "x", "type": "quantitative"}}},
     {"data": {"name": "txt"}, "transform": [{"filter": "datum.a==='AH3'"}], "mark": {"type": "text", "font": "Liberation Serif", "fontSize": 5.5, "color": "#111"},
      "encoding": {"x": {"field": "x", "type": "quantitative"}, "y": {"field": "y", "type": "quantitative"}, "text": {"field": "t"}}}
   ]}
  ]}
 ], "spacing": 0, "resolve": {"scale": {"color": "independent"}, "legend": {"color": "independent"}}},
{"hconcat": [
 {"title": {"text": "AH4", "offset": 3}, "spacing": 0, "resolve": {"scale": {"color": "independent"}, "legend": {"color": "independent"}},
  "vconcat": [
   {"width": 168, "height": 100, "layer": [
     {"data": {"name": "cur"}, "transform": [{"filter": "datum.p==='4t'"}], "mark": {"type": "line", "strokeWidth": 1, "clip": true},
      "encoding": {"x": {"field": "x", "type": "quantitative", "scale": {"domain": [0, 300], "nice": false}, "axis": {"labels": false, "values": [0,50,100,150,200,250,300]}},
       "y": {"field": "y", "type": "quantitative", "scale": {"domain": [0, 55], "nice": false}, "axis": {"values": [0,10,20,30,40,50]}},
       "color": {"field": "s", "type": "nominal", "scale": {"domain": ["G2","G3","I2","I3"], "range": ["#a0567e","#f2a05a","#e3df52","#5fae45"]}}}},
     {"data": {"name": "vl"}, "transform": [{"filter": "datum.a==='AH4' && datum.k==='b'"}], "mark": {"type": "rule", "color": "#000", "strokeWidth": 2.5, "strokeDash": [5, 2]}, "encoding": {"x": {"field": "x", "type": "quantitative"}}},
     {"data": {"name": "vl"}, "transform": [{"filter": "datum.a==='AH4' && datum.k==='p'"}], "mark": {"type": "rule", "color": "#b35c80", "strokeWidth": 1}, "encoding": {"x": {"field": "x", "type": "quantitative"}}},
     {"data": {"name": "vl"}, "transform": [{"filter": "datum.a==='AH4' && datum.k==='c'"}], "mark": {"type": "rule", "color": "#1ba3aa", "strokeWidth": 1.8, "strokeDash": [5, 2]}, "encoding": {"x": {"field": "x", "type": "quantitative"}}}
   ]},
   {"width": 168, "height": 103, "layer": [
     {"data": {"name": "cur"}, "transform": [{"filter": "datum.p==='4m'"}], "mark": {"type": "line", "strokeWidth": 1, "clip": true},
      "encoding": {"x": {"field": "x", "type": "quantitative", "scale": {"domain": [0, 300], "nice": false}, "axis": {"labels": false, "values": [0,50,100,150,200,250,300]}},
       "y": {"field": "y", "type": "quantitative", "scale": {"domain": [0, 60], "nice": false}, "axis": {"values": [0,10,20,30,40,50,60]}},
       "color": {"field": "s", "type": "nominal", "scale": {"domain": ["A1","B1","C2","D2"], "range": ["#b8546c","#f2a05a","#e3df52","#5fae45"]}}}},
     {"data": {"name": "vl"}, "transform": [{"filter": "datum.a==='AH4' && datum.k==='b'"}], "mark": {"type": "rule", "color": "#000", "strokeWidth": 2.5, "strokeDash": [5, 2]}, "encoding": {"x": {"field": "x", "type": "quantitative"}}},
     {"data": {"name": "vl"}, "transform": [{"filter": "datum.a==='AH4' && datum.k==='p'"}], "mark": {"type": "rule", "color": "#b35c80", "strokeWidth": 1}, "encoding": {"x": {"field": "x", "type": "quantitative"}}},
     {"data": {"name": "vl"}, "transform": [{"filter": "datum.a==='AH4' && datum.k==='c'"}], "mark": {"type": "rule", "color": "#1ba3aa", "strokeWidth": 1.8, "strokeDash": [5, 2]}, "encoding": {"x": {"field": "x", "type": "quantitative"}}}
   ]},
   {"width": 168, "height": 94, "layer": [
     {"data": {"name": "bl"}, "transform": [{"filter": "datum.a==='AH4'"}], "mark": {"type": "line", "strokeWidth": 0.9, "color": "#222", "clip": true},
      "encoding": {"x": {"field": "x", "type": "quantitative", "scale": {"domain": [0, 300], "nice": false}, "axis": {"values": [0,50,100,150,200,250,300]}},
       "y": {"field": "y", "type": "quantitative", "scale": {"domain": [0, 55], "nice": false}, "axis": {"values": [0,10,20,30,40,50]}}}},
     {"data": {"name": "red"}, "transform": [{"filter": "datum.a==='AH4'"}], "mark": {"type": "line", "strokeWidth": 1.2, "color": "#e41a1c"},
      "encoding": {"x": {"field": "x", "type": "quantitative"}, "y": {"field": "y", "type": "quantitative"}, "detail": {"field": "g"}, "order": {"value": null}}},
     {"data": {"name": "vl"}, "transform": [{"filter": "datum.a==='AH4' && datum.k==='b'"}], "mark": {"type": "rule", "color": "#000", "strokeWidth": 2.5, "strokeDash": [5, 2]}, "encoding": {"x": {"field": "x", "type": "quantitative"}}},
     {"data": {"name": "vl"}, "transform": [{"filter": "datum.a==='AH4' && datum.k==='p'"}], "mark": {"type": "rule", "color": "#b35c80", "strokeWidth": 1}, "encoding": {"x": {"field": "x", "type": "quantitative"}}},
     {"data": {"name": "vl"}, "transform": [{"filter": "datum.a==='AH4' && datum.k==='c'"}], "mark": {"type": "rule", "color": "#1ba3aa", "strokeWidth": 1.8, "strokeDash": [5, 2]}, "encoding": {"x": {"field": "x", "type": "quantitative"}}},
     {"data": {"name": "txt"}, "transform": [{"filter": "datum.a==='AH4'"}], "mark": {"type": "text", "font": "Liberation Serif", "fontSize": 7, "color": "#111"},
      "encoding": {"x": {"field": "x", "type": "quantitative"}, "y": {"field": "y", "type": "quantitative"}, "text": {"field": "t"}}}
   ]}
  ]},
 {"title": {"text": "AH5", "offset": 3}, "spacing": 0, "resolve": {"scale": {"color": "independent"}, "legend": {"color": "independent"}},
  "vconcat": [
   {"width": 173, "height": 100, "layer": [
     {"data": {"name": "cur"}, "transform": [{"filter": "datum.p==='5t'"}], "mark": {"type": "line", "strokeWidth": 1, "clip": true},
      "encoding": {"x": {"field": "x", "type": "quantitative", "scale": {"domain": [0, 300], "nice": false}, "axis": {"labels": false, "values": [0,50,100,150,200,250,300]}},
       "y": {"field": "y", "type": "quantitative", "scale": {"domain": [0, 55], "nice": false}, "axis": {"values": [0,10,20,30,40,50]}},
       "color": {"field": "s", "type": "nominal", "scale": {"domain": ["G1","G2","H3","I3"], "range": ["#a0567e","#f2a05a","#e3df52","#5fae45"]}}}},
     {"data": {"name": "vl"}, "transform": [{"filter": "datum.a==='AH5' && datum.k==='b'"}], "mark": {"type": "rule", "color": "#000", "strokeWidth": 2.5, "strokeDash": [5, 2]}, "encoding": {"x": {"field": "x", "type": "quantitative"}}},
     {"data": {"name": "vl"}, "transform": [{"filter": "datum.a==='AH5' && datum.k==='p'"}], "mark": {"type": "rule", "color": "#b35c80", "strokeWidth": 1}, "encoding": {"x": {"field": "x", "type": "quantitative"}}},
     {"data": {"name": "vl"}, "transform": [{"filter": "datum.a==='AH5' && datum.k==='c'"}], "mark": {"type": "rule", "color": "#1ba3aa", "strokeWidth": 1.8, "strokeDash": [5, 2]}, "encoding": {"x": {"field": "x", "type": "quantitative"}}}
   ]},
   {"width": 173, "height": 103, "layer": [
     {"data": {"name": "cur"}, "transform": [{"filter": "datum.p==='5m'"}], "mark": {"type": "line", "strokeWidth": 1, "clip": true},
      "encoding": {"x": {"field": "x", "type": "quantitative", "scale": {"domain": [0, 300], "nice": false}, "axis": {"labels": false, "values": [0,50,100,150,200,250,300]}},
       "y": {"field": "y", "type": "quantitative", "scale": {"domain": [0, 60], "nice": false}, "axis": {"values": [0,10,20,30,40,50,60]}},
       "color": {"field": "s", "type": "nominal", "scale": {"domain": ["B3","C2","C3","D2"], "range": ["#b8546c","#f2a05a","#e3df52","#5fae45"]}}}},
     {"data": {"name": "vl"}, "transform": [{"filter": "datum.a==='AH5' && datum.k==='b'"}], "mark": {"type": "rule", "color": "#000", "strokeWidth": 2.5, "strokeDash": [5, 2]}, "encoding": {"x": {"field": "x", "type": "quantitative"}}},
     {"data": {"name": "vl"}, "transform": [{"filter": "datum.a==='AH5' && datum.k==='p'"}], "mark": {"type": "rule", "color": "#b35c80", "strokeWidth": 1}, "encoding": {"x": {"field": "x", "type": "quantitative"}}},
     {"data": {"name": "vl"}, "transform": [{"filter": "datum.a==='AH5' && datum.k==='c'"}], "mark": {"type": "rule", "color": "#1ba3aa", "strokeWidth": 1.8, "strokeDash": [5, 2]}, "encoding": {"x": {"field": "x", "type": "quantitative"}}}
   ]},
   {"width": 173, "height": 94, "layer": [
     {"data": {"name": "bl"}, "transform": [{"filter": "datum.a==='AH5'"}], "mark": {"type": "line", "strokeWidth": 0.9, "color": "#222", "clip": true},
      "encoding": {"x": {"field": "x", "type": "quantitative", "scale": {"domain": [0, 300], "nice": false}, "axis": {"values": [0,50,100,150,200,250,300]}},
       "y": {"field": "y", "type": "quantitative", "scale": {"domain": [0, 55], "nice": false}, "axis": {"values": [0,10,20,30,40,50]}}}},
     {"data": {"name": "vl"}, "transform": [{"filter": "datum.a==='AH5' && datum.k==='b'"}], "mark": {"type": "rule", "color": "#000", "strokeWidth": 2.5, "strokeDash": [5, 2]}, "encoding": {"x": {"field": "x", "type": "quantitative"}}},
     {"data": {"name": "vl"}, "transform": [{"filter": "datum.a==='AH5' && datum.k==='p'"}], "mark": {"type": "rule", "color": "#b35c80", "strokeWidth": 1}, "encoding": {"x": {"field": "x", "type": "quantitative"}}},
     {"data": {"name": "vl"}, "transform": [{"filter": "datum.a==='AH5' && datum.k==='c'"}], "mark": {"type": "rule", "color": "#1ba3aa", "strokeWidth": 1.8, "strokeDash": [5, 2]}, "encoding": {"x": {"field": "x", "type": "quantitative"}}}
   ]}
  ]},
 {"width": 12, "height": 10, "data": {"values": []}, "mark": {"type": "point", "opacity": 0}, "view": {"stroke": null}}
 ], "spacing": 0, "resolve": {"scale": {"color": "independent"}, "legend": {"color": "independent"}}}
]
}
